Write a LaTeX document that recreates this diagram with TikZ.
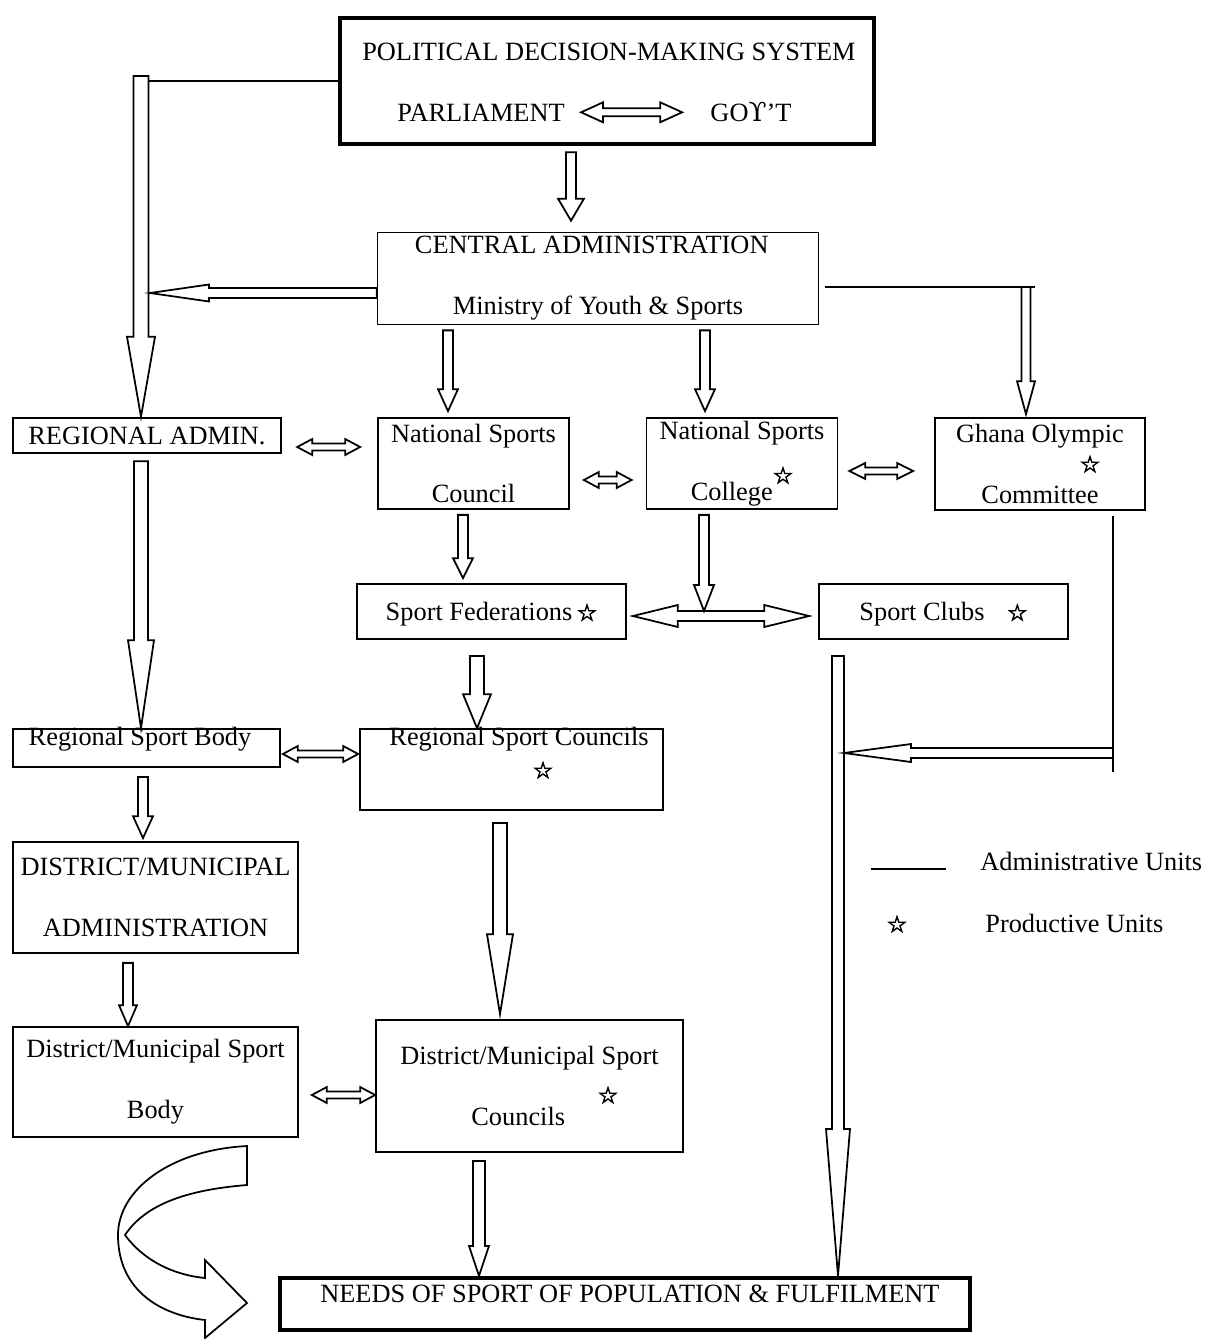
\documentclass[tikz,border=0pt]{standalone}
\usepackage{fontspec}
\setmainfont{Liberation Serif}
\newfontfamily\starfont{DejaVu Sans}[FakeBold=3]
\newfontfamily\greekfont{DejaVu Serif}
\usetikzlibrary{calc}
\newcommand{\starsym}{{\starfont\fontsize{13}{13}\selectfont ☆}}
\tikzset{
    box/.style={rectangle, draw, line width=1pt, inner sep=0pt, align=center, font=\fontsize{15}{34.6}\selectfont},
    thickbox/.style={box, line width=2.6pt},
    txt/.style={inner sep=0pt, font=\fontsize{15}{18}\selectfont},
    link/.style={line width=1pt},
    blk/.style n args={3}{draw, fill=white, line width=1pt, to path={
        let \p1=(\tikztostart), \p2=(\tikztotarget),
            \n1={veclen(\x2-\x1,\y2-\y1)}, \n2={atan2(\y2-\y1,\x2-\x1)} in
        ($(\p1)+(\n2+90:#1)$)
        -- ($(\p1)+(\n2:\n1-#3)+(\n2+90:#1)$)
        -- ($(\p1)+(\n2:\n1-#3)+(\n2+90:#2)$)
        -- (\p2)
        -- ($(\p1)+(\n2:\n1-#3)+(\n2-90:#2)$)
        -- ($(\p1)+(\n2:\n1-#3)+(\n2-90:#1)$)
        -- ($(\p1)+(\n2-90:#1)$) -- cycle}},
    dblk/.style n args={3}{draw, fill=white, line width=1pt, to path={
        let \p1=(\tikztostart), \p2=(\tikztotarget),
            \n1={veclen(\x2-\x1,\y2-\y1)}, \n2={atan2(\y2-\y1,\x2-\x1)} in
        (\p1)
        -- ($(\p1)+(\n2:#3)+(\n2+90:#2)$)
        -- ($(\p1)+(\n2:#3)+(\n2+90:#1)$)
        -- ($(\p1)+(\n2:\n1-#3)+(\n2+90:#1)$)
        -- ($(\p1)+(\n2:\n1-#3)+(\n2+90:#2)$)
        -- (\p2)
        -- ($(\p1)+(\n2:\n1-#3)+(\n2-90:#2)$)
        -- ($(\p1)+(\n2:\n1-#3)+(\n2-90:#1)$)
        -- ($(\p1)+(\n2:#3)+(\n2-90:#1)$)
        -- ($(\p1)+(\n2:#3)+(\n2-90:#2)$) -- cycle}}
}

\begin{document}
\begin{tikzpicture}[x=0.02cm, y=-0.02cm]
    \useasboundingbox (0,0) rectangle (1212,1339);

    % boxes
    \node[thickbox, minimum width=10.68cm, minimum height=2.52cm] (pol) at (607,81) {};
    \node[txt, anchor=base] (poltitle) at (609,60) {POLITICAL DECISION-MAKING SYSTEM};
    \node[txt, anchor=base] (parl) at (481,121) {PARLIAMENT};
    \node[txt, anchor=base] (govt) at (751,121) {GO{\greekfont ϒ}’T};

    \node[box, minimum width=8.82cm, minimum height=1.84cm] (cen) at (598,278.5) {CENTRAL ADMINISTRATION\hspace*{0.25cm}\\Ministry of Youth \& Sports};

    \node[box, line width=1.4pt, minimum width=5.36cm, minimum height=0.7cm] (regadm) at (147,435.5) {REGIONAL ADMIN.};
    \node[box, minimum width=3.82cm, minimum height=1.82cm] (nsc) at (473.5,463.5) {National Sports\\Council};
    \node[box, minimum width=3.82cm, minimum height=1.82cm] (ncol) at (742,463.5) {National Sports\\College\raisebox{9.5pt}{\starsym}};
    \node[box, minimum width=4.2cm, minimum height=1.84cm] (goc) at (1040,464) {Ghana Olympic\\Committee};
    \node (gocstar) at (1090,464) {\starsym};

    \node[box, text depth=0pt, minimum width=5.38cm, minimum height=1.1cm] (sfed) at (491.5,611.5) {Sport Federations\,\starsym};
    \node[box, text depth=0pt, minimum width=4.98cm, minimum height=1.1cm] (sclub) at (943.5,611.5) {Sport Clubs\hspace{0.45cm}\starsym};

    \node[box, minimum width=5.34cm, minimum height=0.76cm] (rsb) at (146.5,748) {};
    \node[txt, anchor=base] (rsbtext) at (140,745) {Regional Sport Body};
    \node[box, minimum width=6.06cm, minimum height=1.62cm] (rsc) at (511.5,769.5) {};
    \node[txt, anchor=base] (rsctext) at (519,745) {Regional Sport Councils};
    \node (rscstar) at (543,770) {\starsym};

    \node[box, minimum width=5.7cm, minimum height=2.22cm] (dma) at (155.5,897.5) {DISTRICT/MUNICIPAL\\ADMINISTRATION};
    \node[box, minimum width=5.7cm, minimum height=2.2cm] (dmsb) at (155.5,1082) {District/Municipal Sport\\Body};
    \node[box, minimum width=6.14cm, minimum height=2.64cm] (dmsc) at (529.5,1086) {District/Municipal Sport\\Councils\hspace*{0.45cm}};
    \node (dmscstar) at (608,1095) {\starsym};

    \node[thickbox, line width=2.4pt, minimum width=13.8cm, minimum height=1.04cm] (needs) at (625,1304) {};
    \node[txt, anchor=base] (needstext) at (630,1302) {NEEDS OF SPORT OF POPULATION \& FULFILMENT};

    % legend
    \draw[link] (871,869) -- (946,869);
    \node[txt, anchor=base west] (admunits) at (980,870) {Administrative Units};
    \node (prodstar) at (897,924) {\starsym};
    \node[txt, anchor=base west] (produnits) at (985,932) {Productive Units};

    % flows from the top
    \coordinate (polleft) at (141,76);
    \coordinate (cenleft) at (150,293);
    \coordinate (cenright) at (1026,287);
    \draw[link] (pol.west) -- (pol.west -| polleft);
    \draw[blk={1.5mm}{2.8mm}{16mm}] (polleft) to (regadm.north -| polleft);
    \draw[blk={1mm}{2.6mm}{4.4mm}] ([yshift=-1.2mm]pol.south -| 571,0) to ([yshift=2.2mm]cen.north -| 571,0);
    \draw[blk={1mm}{1.7mm}{11.8mm}] (cen.west |- cenleft) to (cenleft);
    \draw[link] ([xshift=1.2mm]cen.east |- cenright) -- ([xshift=1.8mm]cenright);
    \draw[blk={0.9mm}{1.8mm}{6.6mm}] (cenright) to ([yshift=0.6mm]goc.north -| cenright);
    \draw[blk={1mm}{2mm}{4.4mm}] ([yshift=-1mm]cen.south -| 448,0) to ([yshift=1.2mm]nsc.north -| 448,0);
    \draw[blk={1mm}{2mm}{4.4mm}] ([yshift=-1mm]cen.south -| 705,0) to ([yshift=1.2mm]ncol.north -| 705,0);

    \draw[dblk={0.8mm}{2mm}{4.4mm}] ([xshift=3.2mm]parl.east) to ([xshift=-5.6mm]govt.west |- parl.east);
    \draw[dblk={0.7mm}{1.6mm}{3mm}] ([xshift=3mm]regadm.east |- 0,447) to ([xshift=-3.4mm]nsc.west |- 0,447);
    \draw[dblk={0.7mm}{1.6mm}{3mm}] ([xshift=2.8mm]nsc.east |- 0,480) to ([xshift=-2.8mm]ncol.west |- 0,480);
    \draw[dblk={0.7mm}{1.6mm}{3.2mm}] ([xshift=2.2mm]ncol.east |- 0,471) to ([xshift=-4.2mm]goc.west |- 0,471);

    % middle level
    \coordinate (fedclub) at (704,611);
    \draw[blk={1mm}{2mm}{4mm}] ([yshift=-1mm]nsc.south -| 463,0) to ([yshift=1mm]sfed.north -| 463,0);
    \draw[dblk={1mm}{2.2mm}{9mm}] ([xshift=1.2mm,yshift=-0.9mm]sfed.east) to ([xshift=-1.8mm,yshift=-0.9mm]sclub.west);
    \draw[blk={1mm}{2mm}{5.2mm}] ([yshift=-1mm]ncol.south -| fedclub) to (fedclub);
    \draw[blk={1.4mm}{2.8mm}{6.8mm}] ([yshift=-3.2mm]sfed.south -| 477,0) to (rsc.north -| 477,0);
    \draw[blk={1.4mm}{2.6mm}{17.6mm}] ([yshift=-1.4mm]regadm.south -| 141,0) to (rsb.north -| 141,0);

    \coordinate (olyline) at (1113,753);
    \coordinate (olytip) at (844,753);
    \draw[blk={1.2mm}{2.4mm}{29.4mm}] ([yshift=-3.2mm]sclub.south -| 838,0) to (needs.north -| 838,0);
    \draw[link] ([yshift=-1mm]goc.south -| olyline) -- ([yshift=-3.8mm]olyline);
    \draw[blk={1mm}{1.8mm}{13.4mm}] (olyline) to (olytip);

    % lower levels
    \draw[dblk={0.7mm}{1.6mm}{3mm}] ([xshift=0.4mm]rsb.east |- 0,754) to ([xshift=-0.2mm]rsc.west |- 0,754);
    \draw[blk={1mm}{2mm}{4.4mm}] ([yshift=-1.8mm]rsb.south -| 143,0) to ([yshift=0.6mm]dma.north -| 143,0);
    \draw[blk={1.4mm}{2.6mm}{16mm}] ([yshift=-2.4mm]rsc.south -| 500,0) to ([yshift=1mm]dmsc.north -| 500,0);
    \draw[blk={1mm}{1.8mm}{4.2mm}] ([yshift=-1.8mm]dma.south -| 128,0) to (dmsb.north -| 128,0);
    \draw[dblk={0.7mm}{1.6mm}{3mm}] ([xshift=2.6mm]dmsb.east |- 0,1095) to (dmsc.west |- 0,1095);
    \draw[blk={1.2mm}{2mm}{6mm}] ([yshift=-1.6mm]dmsc.south -| 479,0) to (needs.north -| 479,0);

    % curved arrow into the needs box
    \draw[link, fill=white] (247,1146) -- (247,1185)
        .. controls (185,1190) and (145,1205) .. (125,1235)
        .. controls (145,1262) and (175,1275) .. (205,1278)
        -- (205,1260) -- (247,1303) -- (205,1338) -- (205,1320)
        .. controls (160,1315) and (118,1290) .. (118,1235)
        .. controls (118,1190) and (170,1150) .. (247,1146) -- cycle;
\end{tikzpicture}
\end{document}
